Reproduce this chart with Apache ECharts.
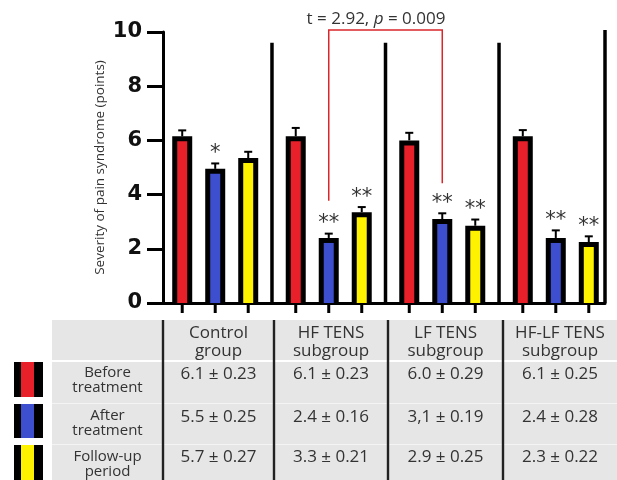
<!DOCTYPE html>
<html><head><meta charset="utf-8">
<script src="https://cdn.jsdelivr.net/npm/echarts@6/dist/echarts.min.js"></script>
<style>html,body{margin:0;padding:0;background:#fff}#c{width:617px;height:480px}</style>
</head><body><div id="c"></div>
<script>
// ---- data ----
const groups = ['Control group', 'HF TENS subgroup', 'LF TENS subgroup', 'HF-LF TENS subgroup'];
const beforeValues = [6.15, 6.15, 6.0, 6.15];
const afterValues = [4.95, 2.4, 3.1, 2.4];
const followValues = [5.35, 3.35, 2.85, 2.25];
const beforeErr = [0.22, 0.31, 0.28, 0.23];
const afterErr = [0.2, 0.16, 0.21, 0.28];
const followErr = [0.23, 0.19, 0.23, 0.21];
const afterSig = ['*', '**', '**', '**'];
const followSig = ['', '**', '**', '**'];
const yTicks = [0, 2, 4, 6, 8, 10];
const statText = 't = 2.92, {i|p} = 0.009';
const tableHeaders = ['Control\ngroup', 'HF TENS\nsubgroup', 'LF TENS\nsubgroup', 'HF-LF TENS\nsubgroup'];
const rowLabels = ['Before\ntreatment', 'After\ntreatment', 'Follow-up\nperiod'];
const tableBefore = ['6.1 ± 0.23', '6.1 ± 0.23', '6.0 ± 0.29', '6.1 ± 0.25'];
const tableAfter = ['5.5 ± 0.25', '2.4 ± 0.16', '3,1 ± 0.19', '2.4 ± 0.28'];
const tableFollow = ['5.7 ± 0.27', '3.3 ± 0.21', '2.9 ± 0.25', '2.3 ± 0.22'];

// ---- styling / layout ----
const colors = ['#e8202a', '#3d4fcf', '#fff200'];
const BAR_OFFSET = 33;
const xMin = -0.46, xMax = 3.4335;

const chart = echarts.init(document.getElementById('c'), null, {renderer: 'canvas'});

function barSeries(idx, values, errs, sig) {
  return {
    type: 'custom', coordinateSystem: 'cartesian2d', clip: false, z: 3,
    data: values.map((v, i) => [i, v, errs[i]]),
    encode: {x: 0, y: 1},
    renderItem(params, api) {
      const g = api.value(0), v = api.value(1), e = api.value(2);
      const base = api.coord([g, 0]);
      const top = api.coord([g, v]);
      const eTop = api.coord([g, v + e]);
      const cx = base[0] + (idx - 1) * BAR_OFFSET;
      const W = 20, B = 5;
      const children = [
        {type: 'line', shape: {x1: cx, y1: top[1], x2: cx, y2: eTop[1]}, style: {stroke: '#000', lineWidth: 2}},
        {type: 'line', shape: {x1: cx - 4, y1: eTop[1], x2: cx + 4, y2: eTop[1]}, style: {stroke: '#000', lineWidth: 2}},
        {type: 'rect', shape: {x: cx - W / 2, y: top[1], width: W, height: base[1] - top[1]}, style: {fill: '#000'}},
        {type: 'rect', shape: {x: cx - W / 2 + B, y: top[1] + B, width: W - 2 * B, height: base[1] - top[1] - B}, style: {fill: colors[idx]}},
        {type: 'line', shape: {x1: cx, y1: base[1], x2: cx, y2: base[1] + 10}, style: {stroke: '#000', lineWidth: 3}}
      ];
      const s = sig ? sig[params.dataIndex] : '';
      if (s) children.push({type: 'text', style: {text: s, x: cx, y: eTop[1] - 10, align: 'center', verticalAlign: 'middle', fontSize: 21, fontFamily: 'DejaVu Sans', fill: '#333'}});
      return {type: 'group', children};
    }
  };
}

const separatorSeries = {
  type: 'custom', coordinateSystem: 'cartesian2d', clip: false, z: 2,
  data: [[0.5, 9.6], [1.5, 9.6], [2.5, 9.6], [xMax, 10.07]],
  encode: {x: 0, y: 1},
  renderItem(params, api) {
    const b = api.coord([api.value(0), 0]);
    const t = api.coord([api.value(0), api.value(1)]);
    return {type: 'line', shape: {x1: b[0], y1: b[1], x2: t[0], y2: t[1]}, style: {stroke: '#000', lineWidth: 3.5}};
  }
};

const bracketSeries = {
  type: 'custom', coordinateSystem: 'cartesian2d', clip: false, z: 4,
  data: [[1, 3.77, 2, 4.42, 10.07]],
  renderItem(params, api) {
    const a = api.coord([api.value(0), api.value(1)]);
    const at = api.coord([api.value(0), api.value(4)]);
    const b = api.coord([api.value(2), api.value(3)]);
    const bt = api.coord([api.value(2), api.value(4)]);
    return {type: 'polyline', shape: {points: [a, at, bt, b]}, style: {stroke: '#d9262b', lineWidth: 1.5, fill: null}};
  }
};

// ---- table graphics ----
const graphics = [];
graphics.push({type: 'rect', shape: {x: 52, y: 320, width: 565, height: 160}, style: {fill: '#e6e6e6'}});
graphics.push({type: 'rect', shape: {x: 52, y: 360, width: 565, height: 2}, style: {fill: '#ffffff'}});
graphics.push({type: 'rect', shape: {x: 52, y: 403, width: 565, height: 1}, style: {fill: '#f4f4f4'}});
graphics.push({type: 'rect', shape: {x: 52, y: 444, width: 565, height: 1}, style: {fill: '#f4f4f4'}});
[163, 274, 388, 503].forEach(x => graphics.push({type: 'rect', shape: {x: x - 1.2, y: 320, width: 2.4, height: 160}, style: {fill: '#222'}}));
const colCenters = [218.5, 331, 445.5, 560];
tableHeaders.forEach((t, i) => graphics.push({type: 'text', x: colCenters[i], y: 342,
  style: {text: t, align: 'center', verticalAlign: 'middle', fontSize: 17, lineHeight: 18, fontFamily: 'Open Sans', fill: '#333'}}));
const rowLabelY = [380.5, 423, 464.5];
const rowValueY = [374, 417, 457];
const swatchY = [[362, 35], [404, 34], [445, 35]];
[tableBefore, tableAfter, tableFollow].forEach((row, r) => {
  graphics.push({type: 'rect', shape: {x: 14, y: swatchY[r][0], width: 29, height: swatchY[r][1]}, style: {fill: '#000'}});
  graphics.push({type: 'rect', shape: {x: 21, y: swatchY[r][0], width: 13, height: swatchY[r][1]}, style: {fill: colors[r]}});
  graphics.push({type: 'text', x: 107.5, y: rowLabelY[r],
    style: {text: rowLabels[r], align: 'center', verticalAlign: 'middle', fontSize: 15, lineHeight: 15, fontFamily: 'Open Sans', fill: '#333'}});
  row.forEach((t, i) => graphics.push({type: 'text', x: colCenters[i], y: rowValueY[r],
    style: {text: t, align: 'center', verticalAlign: 'middle', fontSize: 17, fontFamily: 'Open Sans', fill: '#333'}}));
});
graphics.push({type: 'text', x: 376, y: 19,
  style: {text: statText, align: 'center', verticalAlign: 'middle', fontSize: 17, fontFamily: 'Open Sans', fill: '#333',
    rich: {i: {fontStyle: 'italic', fontSize: 17, fontFamily: 'Open Sans', fill: '#333'}}}});

chart.setOption({
  animation: false,
  backgroundColor: '#fff',
  grid: {left: 163, right: 12, top: 32, bottom: 177, containLabel: false},
  xAxis: {type: 'value', min: xMin, max: xMax,
    axisLine: {show: true, onZero: false, lineStyle: {color: '#000', width: 3}},
    axisTick: {show: false}, axisLabel: {show: false}, splitLine: {show: false}},
  yAxis: {type: 'value', min: yTicks[0], max: yTicks[yTicks.length - 1], interval: 2,
    axisLine: {show: true, onZero: false, lineStyle: {color: '#000', width: 3}},
    axisTick: {show: true, inside: false, length: 16, lineStyle: {color: '#000', width: 3}},
    axisLabel: {margin: 21, color: '#111', fontSize: 21, fontWeight: 'bold', fontFamily: 'DejaVu Sans'},
    splitLine: {show: false},
    name: 'Severity of pain syndrome (points)', nameLocation: 'middle', nameGap: 56, nameMoveOverlap: false,
    nameTextStyle: {fontSize: 13.5, fontFamily: 'Open Sans', color: '#333'}},
  graphic: graphics,
  series: [
    separatorSeries,
    barSeries(0, beforeValues, beforeErr, null),
    barSeries(1, afterValues, afterErr, afterSig),
    barSeries(2, followValues, followErr, followSig),
    bracketSeries
  ]
});
</script></body></html>
